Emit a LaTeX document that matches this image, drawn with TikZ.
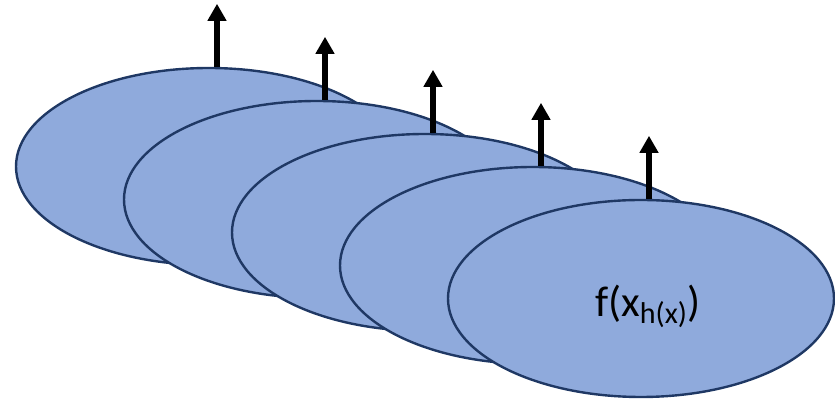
\documentclass[tikz,border=0pt]{standalone}
\usepackage{fontspec}
\setmainfont{Carlito}
\usetikzlibrary{shapes.geometric,arrows.meta}
\definecolor{discblue}{HTML}{8FAADC}
\definecolor{discedge}{HTML}{1F3864}

\begin{document}
\begin{tikzpicture}[x=0.5pt,y=-0.5pt,>={Triangle[width=9pt,length=8.5pt]},
    disc/.style={ellipse,draw=discedge,line width=1.2pt,fill=discblue,
        minimum width=193pt,minimum height=98.5pt,inner sep=0pt}]
    % Frame
    \useasboundingbox (0,0) rectangle (835,399);

    % Stacked discs, back to front
    \foreach \i in {1,...,5}
        \node[disc] (d\i) at ({209+108*(\i-1)},{166.5+33*(\i-1)}) {};

    % Arrows on top of each disc
    \foreach \i in {1,...,5} {
        \coordinate (b\i) at ([xshift=4pt]d\i.north);
        \coordinate (t\i) at ([xshift=4pt,yshift=31.5pt]d\i.north);
        \draw[->,line width=3.3pt] (b\i) -- (t\i);
    }

    % Label
    \node[font=\fontsize{21.5}{26}\selectfont] (lbl) at ([xshift=3.5pt,yshift=-4pt]d5.center) {f(x\textsubscript{h(x)})};
\end{tikzpicture}
\end{document}
